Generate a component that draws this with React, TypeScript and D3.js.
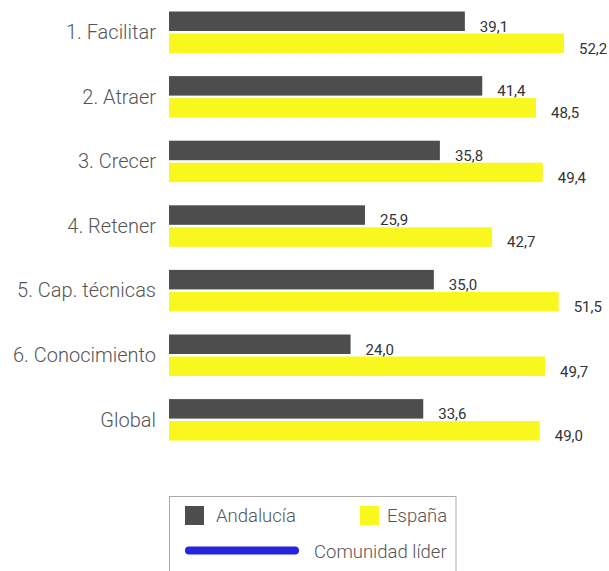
import React from "react";
import * as d3 from "d3";

const categories = ["1. Facilitar", "2. Atraer", "3. Crecer", "4. Retener", "5. Cap. técnicas", "6. Conocimiento", "Global"];
const andalucia = [39.1, 41.4, 35.8, 25.9, 35.0, 24.0, 33.6];
const espana = [52.2, 48.5, 49.4, 42.7, 51.5, 49.7, 49.0];
const seriesNames = ["Andalucía", "España", "Comunidad líder"];
const colors = ["#4d4d4d", "#f8f81e", "#2424e0"];

const W = 609, H = 571;
const fmt = (v: number) => v.toFixed(1).replace(".", ",");

export default function App() {
  const x = d3.scaleLinear().domain([0, 58.15]).range([169, 609]);
  const y = d3.scaleBand<string>().domain(categories).range([11.5, 11.5 + 64.6 * 7]).paddingInner(0).paddingOuter(0);
  const bh = 19.5;
  const gap = 2.5;
  const font = "Roboto, 'Open Sans', sans-serif";
  return (
    <svg width={W} height={H} style={{ position: "absolute", left: 0, top: 0 }} fontFamily={font}>
      {categories.map((c, i) => {
        const y0 = y(c)!;
        return (
          <g key={c}>
            <text x={156} y={y0 + 27.5} textAnchor="end" fontSize={20} fill="#555" fontWeight={300}>{c}</text>
            <rect x={x(0)} y={y0} width={x(andalucia[i]) - x(0)} height={bh} fill={colors[0]} />
            <rect x={x(0)} y={y0 + bh + gap} width={x(espana[i]) - x(0)} height={bh} fill={colors[1]} />
            <text x={x(andalucia[i]) + 15} y={y0 + bh + 0.5} fontSize={15} fill="#333">{fmt(andalucia[i])}</text>
            <text x={x(espana[i]) + 15} y={y0 + 2 * bh + gap + 0.5} fontSize={15} fill="#333">{fmt(espana[i])}</text>
          </g>
        );
      })}
      <g>
        <rect x={169.5} y={496.5} width={286.5} height={90} fill="none" stroke="#aaa" strokeWidth={1} />
        <rect x={185} y={506} width={19} height={19} fill={colors[0]} />
        <text x={216} y={522} fontSize={18.5} fill="#555" fontWeight={300}>{seriesNames[0]}</text>
        <rect x={360} y={506} width={19} height={19} fill={colors[1]} />
        <text x={387} y={522} fontSize={18.5} fill="#555" fontWeight={300}>{seriesNames[1]}</text>
        <line x1={189} x2={295} y1={550.5} y2={550.5} stroke={colors[2]} strokeWidth={8} strokeLinecap="round" />
        <text x={314} y={557.5} fontSize={18.5} fill="#555" fontWeight={300}>{seriesNames[2]}</text>
      </g>
    </svg>
  );
}
